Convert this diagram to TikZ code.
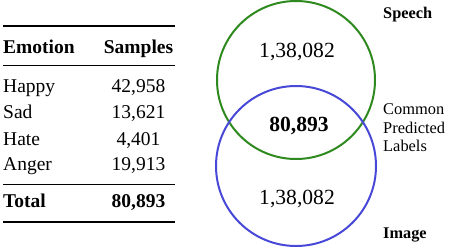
\documentclass[tikz,border=0pt]{standalone}
\usepackage{fontspec}
\setmainfont{Liberation Serif}
\usepackage{xcolor}
\definecolor{speechGreen}{HTML}{2E8A1E}
\definecolor{imageBlue}{HTML}{4848D8}

\begin{document}
\begin{tikzpicture}[x=1pt,y=-1pt]
  \useasboundingbox (0,0) rectangle (449,247);
  % table
  \draw[line width=1.6pt] (3,26) -- (175,26);
  \draw[line width=1pt] (3,65) -- (175,65);
  \draw[line width=1pt] (3,184) -- (175,184);
  \draw[line width=1.6pt] (3,222) -- (175,222);
  \node[anchor=base west,inner sep=0pt] (emo) at (3,53) {\fontsize{19.5}{20}\selectfont\bfseries Emotion};
  \node[anchor=base,inner sep=0pt] (smp) at (138.5,53) {\fontsize{19.5}{20}\selectfont\bfseries Samples};
  \node[anchor=base west,inner sep=0pt] (hap) at (3,92) {\fontsize{19.5}{20}\selectfont Happy};
  \node[anchor=base,inner sep=0pt] (hapn) at (138.5,92) {\fontsize{19.5}{20}\selectfont 42,958};
  \node[anchor=base west,inner sep=0pt] (sad) at (3,118) {\fontsize{19.5}{20}\selectfont Sad};
  \node[anchor=base,inner sep=0pt] (sadn) at (138.5,118) {\fontsize{19.5}{20}\selectfont 13,621};
  \node[anchor=base west,inner sep=0pt] (hat) at (3,145) {\fontsize{19.5}{20}\selectfont Hate};
  \node[anchor=base,inner sep=0pt] (hatn) at (138.5,145) {\fontsize{19.5}{20}\selectfont 4,401};
  \node[anchor=base west,inner sep=0pt] (ang) at (3,170) {\fontsize{19.5}{20}\selectfont Anger};
  \node[anchor=base,inner sep=0pt] (angn) at (138.5,170) {\fontsize{19.5}{20}\selectfont 19,913};
  \node[anchor=base west,inner sep=0pt] (tot) at (3,207) {\fontsize{19.5}{20}\selectfont\bfseries Total};
  \node[anchor=base,inner sep=0pt] (totn) at (138.5,207) {\fontsize{19.5}{20}\selectfont\bfseries 80,893};
  % venn
  \node[draw=speechGreen,circle,line width=2pt,minimum size=158pt,inner sep=0pt] (speech) at (296,80) {};
  \node[draw=imageBlue,circle,line width=2pt,minimum size=160pt,inner sep=0pt] (image) at (296,166) {};
  \node[anchor=base,inner sep=0pt] (sn) at (297,57) {\fontsize{21.6}{22}\selectfont 1,38,082};
  \node[anchor=base,inner sep=0pt] (in) at (297,204) {\fontsize{21.6}{22}\selectfont 1,38,082};
  \node[anchor=base,inner sep=0pt] (cn) at (299,131) {\fontsize{21.6}{22}\selectfont\bfseries 80,893};
  \node[anchor=base west,inner sep=0pt] (sl) at (383,18) {\fontsize{16.3}{17}\selectfont\bfseries Speech};
  \node[anchor=base west,inner sep=0pt] (il) at (383,238) {\fontsize{16.3}{17}\selectfont\bfseries Image};
  \node[anchor=west,align=left,inner sep=0pt,font=\fontsize{16.4}{18.6}\selectfont] (cl) at (383,128) {Common\\Predicted\\Labels};
\end{tikzpicture}
\end{document}
